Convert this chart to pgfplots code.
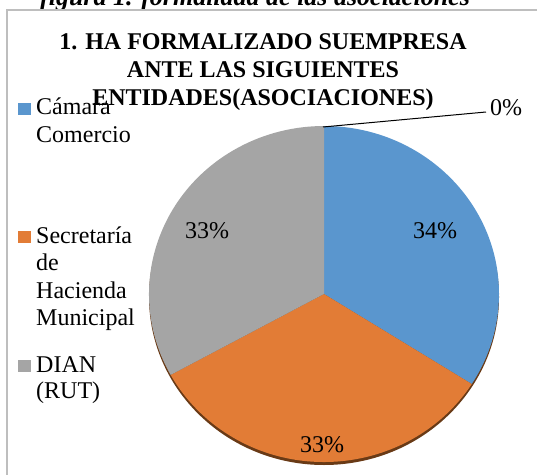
\documentclass[border=0pt]{standalone}
\usepackage{pgfplots}
\pgfplotsset{compat=1.18}
\usepackage{pgfplotstable}
\usepackage{fontspec}
\setmainfont{Liberation Serif}
\definecolor{cBlue}{RGB}{90,150,206}
\definecolor{cOrange}{RGB}{226,124,54}
\definecolor{cGray}{RGB}{165,165,165}
\definecolor{cShadow}{RGB}{105,58,22}
\definecolor{cBorder}{RGB}{190,190,190}

\pgfplotstableread{
id value
1 34
2 33
3 33
4 0
}\piedata
\pgfplotstablegetelem{0}{value}\of\piedata \edef\vA{\pgfplotsretval}
\pgfplotstablegetelem{1}{value}\of\piedata \edef\vB{\pgfplotsretval}
\pgfplotstablegetelem{2}{value}\of\piedata \edef\vC{\pgfplotsretval}
\pgfplotstablegetelem{3}{value}\of\piedata \edef\vD{\pgfplotsretval}
\pgfmathsetmacro{\tot}{\vA+\vB+\vC+\vD}
\pgfmathsetmacro{\aA}{90}
\pgfmathsetmacro{\aB}{\aA-360*\vA/\tot}
\pgfmathsetmacro{\aC}{\aB-360*\vB/\tot}
\pgfmathsetmacro{\aD}{\aC-360*\vC/\tot}
\pgfmathsetmacro{\aE}{\aD-360*\vD/\tot}

\begin{document}
\begin{tikzpicture}
\useasboundingbox (0,0) rectangle (537pt,474pt);
\begin{axis}[at={(0,0)}, anchor=south west, scale only axis,
  width=537pt, height=474pt, xmin=0, xmax=537, ymin=0, ymax=474,
  hide axis, clip=false]
% caption (partly cut off at the top)
\node[anchor=base, font=\fontsize{26}{28}\selectfont\bfseries\itshape, inner sep=0pt] at (axis cs:255,468) {figura 1. formalidad de las asociaciones};
% frame
\draw[cBorder, line width=1.5pt] (axis cs:7,-20) -- (axis cs:7,464) -- (axis cs:600,464);
% title
\node[anchor=base, font=\fontsize{24}{27}\selectfont\bfseries, inner sep=0pt] at (axis cs:263,424) {1. HA FORMALIZADO SUEMPRESA};
\node[anchor=base, font=\fontsize{24}{27}\selectfont\bfseries, inner sep=0pt] at (axis cs:263,396) {ANTE LAS SIGUIENTES};
% pie shadow
\fill[cShadow] (axis cs:324,177) ellipse [x radius=175pt, y radius=168pt];
% slices
\fill[cBlue] (axis cs:324,180) -- ++(\aA:175pt and 168pt) arc[start angle=\aA, end angle=\aB, x radius=175pt, y radius=168pt] -- cycle;
\fill[cOrange] (axis cs:324,180) -- ++(\aB:175pt and 168pt) arc[start angle=\aB, end angle=\aC, x radius=175pt, y radius=168pt] -- cycle;
\fill[cGray] (axis cs:324,180) -- ++(\aC:175pt and 168pt) arc[start angle=\aC, end angle=\aD, x radius=175pt, y radius=168pt] -- cycle;
% last title line drawn over
\node[anchor=base, font=\fontsize{24}{27}\selectfont\bfseries, inner sep=0pt] at (axis cs:263,368) {ENTIDADES(ASOCIACIONES)};
% data labels
\node[anchor=base, font=\fontsize{24}{27}\selectfont, inner sep=0pt] at (axis cs:435,236) {34\%};
\node[anchor=base, font=\fontsize{24}{27}\selectfont, inner sep=0pt] at (axis cs:322,22) {33\%};
\node[anchor=base, font=\fontsize{24}{27}\selectfont, inner sep=0pt] at (axis cs:207,236) {33\%};
\draw[black, line width=1pt] (axis cs:323,347) -- (axis cs:486,362);
\node[anchor=base west, font=\fontsize{24}{27}\selectfont, inner sep=0pt] at (axis cs:490,358) {0\%};
% legend
\fill[cBlue] (axis cs:18,359) rectangle (axis cs:31,371);
\fill[cOrange] (axis cs:18,231) rectangle (axis cs:31,243);
\fill[cGray] (axis cs:18,102) rectangle (axis cs:31,114);
\begin{scope}[every node/.style={anchor=base west, font=\fontsize{24}{27}\selectfont, inner sep=0pt}]
\node at (axis cs:36,359) {Cámara};
\node at (axis cs:36,331) {Comercio};
\node at (axis cs:36,231) {Secretaría};
\node at (axis cs:36,204) {de};
\node at (axis cs:36,176) {Hacienda};
\node at (axis cs:36,149) {Municipal};
\node at (axis cs:36,102) {DIAN};
\node at (axis cs:36,76) {(RUT)};
\end{scope}
\end{axis}
\end{tikzpicture}
\end{document}
